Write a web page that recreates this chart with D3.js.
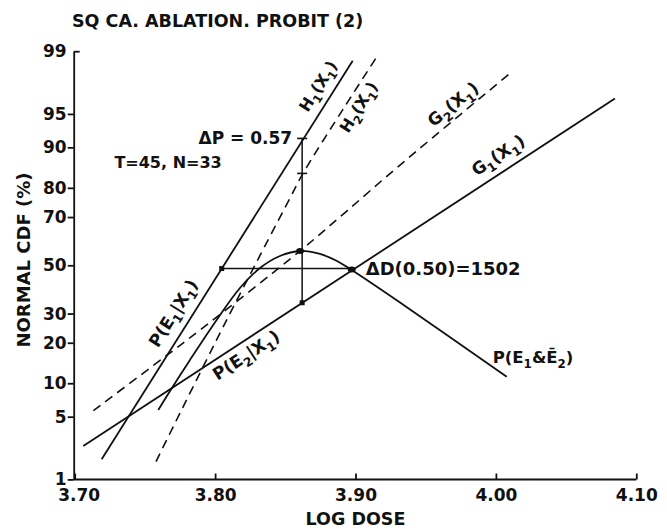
<!DOCTYPE html>
<html><head><meta charset="utf-8">
<script src="https://cdn.jsdelivr.net/npm/d3@7"></script>
<style>body{margin:0;background:#fff}svg{display:block;background:#fff}</style>
</head><body>
<svg id="c" width="667" height="529"></svg>
<script>
// ---- data ----
const xTicks = [3.70, 3.80, 3.90, 4.00, 4.10];
const yTicks = [1, 5, 10, 20, 30, 50, 70, 80, 90, 95, 99];

const h1Dose = [3.7192, 3.8980];
const h1Pct  = [1.75, 98.69];
const g1Dose = [3.7061, 4.0848];
const g1Pct  = [2.48, 96.50];
const h2Dose = [3.7579, 3.8071, 3.8534, 3.8626, 3.8925, 3.9155];
const h2Pct  = [1.65, 26.5, 76.8, 84.1, 95.8, 98.85];
const g2Dose = [3.7133, 3.7631, 3.7893, 3.8605, 3.8913, 3.9317, 4.0100];
const g2Pct  = [5.71, 15.70, 24.11, 56.2, 71.13, 86.2, 98.15];
const curveDose = [3.7595, 3.7679, 3.7821, 3.8011, 3.8177, 3.8320, 3.8462, 3.8605, 3.8747, 3.8868, 3.8973, 3.9317, 4.0077];
const curvePct  = [5.80, 8.61, 15.19, 27.62, 40.26, 48.83, 54.02, 56.17, 54.89, 51.86, 47.96, 34.31, 11.31];

const deltaPDose = 3.8620;
const deltaPPct = [91.6, 84.1, 34.2];   // H1, H2, G1 at that dose
const peakDose = 3.8605, peakPct = 56.2;
const deltaDPct = 48.6;
const deltaDDose = [3.8047, 3.8973];

const titleText = "SQ CA. ABLATION. PROBIT (2)";
const xTitle = "LOG DOSE";
const yTitle = "NORMAL CDF (%)";

// ---- helpers ----
function probit(p){
  const a=[-3.969683028665376e+01,2.209460984245205e+02,-2.759285104469687e+02,1.383577518672690e+02,-3.066479806614716e+01,2.506628277459239e+00];
  const b=[-5.447609879822406e+01,1.615858368580409e+02,-1.556989798598866e+02,6.680131188771972e+01,-1.328068155288572e+01];
  const c=[-7.784894002430293e-03,-3.223964580411365e-01,-2.400758277161838e+00,-2.549732539343734e+00,4.374664141464968e+00,2.938163982698783e+00];
  const d=[7.784695709041462e-03,3.224671290700398e-01,2.445134137142996e+00,3.754408661907416e+00];
  const pl=0.02425, ph=1-pl; let q,r;
  if(p<pl){q=Math.sqrt(-2*Math.log(p));return (((((c[0]*q+c[1])*q+c[2])*q+c[3])*q+c[4])*q+c[5])/((((d[0]*q+d[1])*q+d[2])*q+d[3])*q+1);}
  if(p<=ph){q=p-0.5;r=q*q;return (((((a[0]*r+a[1])*r+a[2])*r+a[3])*r+a[4])*r+a[5])*q/(((((b[0]*r+b[1])*r+b[2])*r+b[3])*r+b[4])*r+1);}
  q=Math.sqrt(-2*Math.log(1-p));return -(((((c[0]*q+c[1])*q+c[2])*q+c[3])*q+c[4])*q+c[5])/((((d[0]*q+d[1])*q+d[2])*q+d[3])*q+1);
}

const INK = "#111";
const FONT = "'DejaVu Sans', sans-serif";

const svg = d3.select("#c");
const x = d3.scaleLinear().domain([3.70, 4.10]).range([74.7, 636.3]);
const yZ = d3.scaleLinear().domain([probit(0.01), probit(0.99)]).range([479.4, 51.2]);
const y = p => yZ(probit(p / 100));
const yAxisX = 73.7, xAxisY = 479.5;

// ---- axes ----
const gx = svg.append("g").attr("transform", `translate(0,${xAxisY})`)
  .call(d3.axisBottom(x).tickValues(xTicks).tickFormat(d3.format(".2f"))
        .tickSizeInner(-6).tickSizeOuter(0).tickPadding(9));
gx.select(".domain").attr("d", `M${yAxisX},0H${x.range()[1]}`);
gx.selectAll("path,line").attr("stroke", INK).attr("stroke-width", 1.8);
gx.selectAll("text").attr("fill", INK).attr("font-family", FONT)
  .attr("font-weight", "bold").attr("font-size", 17);
gx.selectAll(".tick").filter((d, i) => i === 0).select("text").attr("dx", 4);

const gy = svg.append("g").attr("transform", `translate(${yAxisX},0)`)
  .call(d3.axisLeft(yZ).tickValues(yTicks.map(p => probit(p / 100)))
        .tickFormat((d, i) => yTicks[i]).tickSizeInner(6).tickSizeOuter(0).tickPadding(1));
gy.selectAll("path,line").attr("stroke", INK).attr("stroke-width", 1.8);
gy.selectAll(".tick").filter((d, i) => yTicks[i] === 99).select("line").attr("x2", 6);
gy.selectAll("text").attr("fill", INK).attr("font-family", FONT)
  .attr("font-weight", "bold").attr("font-size", 17);

// titles
svg.append("text").attr("x", 72).attr("y", 26.5).text(titleText)
  .attr("font-family", FONT).attr("font-weight", "bold").attr("font-size", 17.5).attr("fill", INK);
svg.append("text").attr("x", (x.range()[0] + x.range()[1]) / 2).attr("y", 525).attr("text-anchor", "middle")
  .text(xTitle).attr("font-family", FONT).attr("font-weight", "bold").attr("font-size", 17.5).attr("fill", INK);
svg.append("text").attr("transform", "translate(30,260) rotate(-90)").attr("text-anchor", "middle")
  .text(yTitle).attr("font-family", FONT).attr("font-weight", "bold").attr("font-size", 18).attr("fill", INK);

// ---- lines ----
const zip = (a, b) => a.map((v, i) => [v, b[i]]);
const lineStraight = d3.line().x(d => x(d[0])).y(d => y(d[1]));
const lineSmooth = d3.line().x(d => x(d[0])).y(d => y(d[1])).curve(d3.curveCatmullRom.alpha(0.5));
const plot = svg.append("g").attr("fill", "none").attr("stroke", INK);

plot.append("path").attr("d", lineStraight(zip(h1Dose, h1Pct))).attr("stroke-width", 1.8);
plot.append("path").attr("d", lineStraight(zip(g1Dose, g1Pct))).attr("stroke-width", 1.8);
plot.append("path").attr("d", lineSmooth(zip(h2Dose, h2Pct))).attr("stroke-width", 1.6).attr("stroke-dasharray", "9,6");
plot.append("path").attr("d", lineSmooth(zip(g2Dose, g2Pct))).attr("stroke-width", 1.6).attr("stroke-dasharray", "9,6");
plot.append("path").attr("d", lineSmooth(zip(curveDose, curvePct))).attr("stroke-width", 1.8);

// delta P vertical and delta D horizontal
plot.append("line").attr("x1", x(deltaPDose)).attr("x2", x(deltaPDose))
  .attr("y1", y(deltaPPct[0])).attr("y2", y(deltaPPct[2])).attr("stroke-width", 1.5);
plot.append("line").attr("x1", x(deltaDDose[0])).attr("x2", x(deltaDDose[1]))
  .attr("y1", y(deltaDPct)).attr("y2", y(deltaDPct)).attr("stroke-width", 1.4);
[deltaPPct[0], deltaPPct[1]].forEach(p => {
  plot.append("line").attr("x1", x(deltaPDose) - 5).attr("x2", x(deltaPDose) + 5)
    .attr("y1", y(p)).attr("y2", y(p)).attr("stroke-width", 1.6);
});
const marks = svg.append("g").attr("fill", INK);
marks.append("rect").attr("x", x(deltaPDose) - 2.5).attr("y", y(deltaPPct[2]) - 2.5).attr("width", 5).attr("height", 5);
marks.append("rect").attr("x", x(deltaDDose[0]) - 2.5).attr("y", y(deltaDPct) - 2.5).attr("width", 5).attr("height", 5);
marks.append("ellipse").attr("cx", x(peakDose)).attr("cy", y(peakPct)).attr("rx", 4).attr("ry", 3);
marks.append("ellipse").attr("cx", x(deltaDDose[1])).attr("cy", y(deltaDPct) + 1).attr("rx", 4).attr("ry", 3);

// ---- annotations ----
function angleOf(dose, pct){
  const n = dose.length - 1;
  return Math.atan2(y(pct[n]) - y(pct[0]), x(dose[n]) - x(dose[0])) * 180 / Math.PI;
}
function label(parts, cx, cy, ang, size, anchor){
  const t = svg.append("text").attr("transform", `translate(${cx},${cy}) rotate(${ang})`)
    .attr("text-anchor", anchor || "middle").attr("y", size * 0.36)
    .attr("font-family", FONT).attr("font-weight", "bold").attr("font-size", size).attr("fill", INK);
  let shift = 0;
  parts.forEach(([s, sub]) => {
    const want = sub ? size * 0.3 : 0;
    t.append("tspan").attr("dy", want - shift).attr("font-size", sub ? size * 0.72 : size).text(s);
    shift = want;
  });
  return t;
}
const aH1 = angleOf(h1Dose, h1Pct), aG1 = angleOf(g1Dose, g1Pct);
const aH2 = angleOf(h2Dose.slice(3), h2Pct.slice(3)), aG2 = angleOf(g2Dose, g2Pct);

label([["H",0],["1",1],["(X",0],["1",1],[")",0]], x(3.8733), y(97.43), aH1, 16);
label([["H",0],["2",1],["(X",0],["1",1],[")",0]], x(3.9021), y(95.73), aH2, 16);
label([["G",0],["2",1],["(X",0],["1",1],[")",0]], x(3.9694), y(96.01), aG2, 17);
label([["G",0],["1",1],["(X",0],["1",1],[")",0]], x(4.0015), y(88.46), aG1, 17);
label([["P(E",0],["1",1],["|X",0],["1",1],[")",0]], x(3.7700), y(30.22), aH1, 17);
label([["P(E",0],["2",1],["|X",0],["1",1],[")",0]], x(3.8220), y(16.50), aG1, 17);

label([["T=45, N=33",0]], x(3.8047), y(86.84), 0, 16, "end");
label([["\u0394P = 0.57",0]], x(deltaPDose) - 10, y(deltaPPct[0]) - 1, 0, 17, "end");
label([["\u0394D(0.50)=1502",0]], x(deltaDDose[1]) + 14, y(deltaDPct), 0, 18, "start");
label([["P(E",0],["1",1],["&\u0112",0],["2",1],[")",0]], x(curveDose[curveDose.length-1]) - 14, y(curvePct[curvePct.length-1]) - 20, 0, 16.5, "start");
</script>
</body></html>
